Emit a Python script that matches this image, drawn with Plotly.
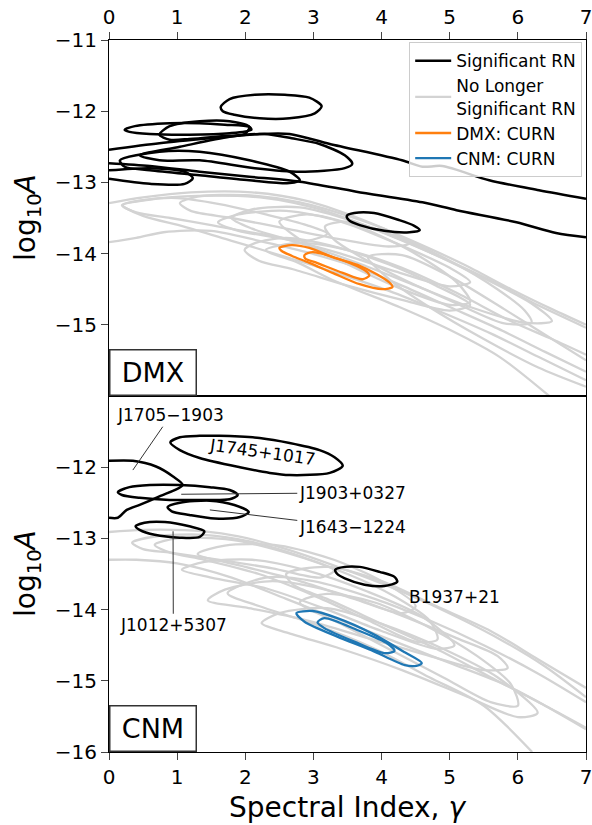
import plotly.graph_objects as go

# Contours in (spectral index gamma, log10 A); None marks a break where a contour leaves the axes.

# ---- DMX panel: pulsars with significant red noise ----
DMX_SIG_1 = [(1.64, -11.94), (1.77, -11.83), (2.14, -11.77), (2.58, -11.77), (2.94, -11.81), (3.12, -11.93),
             (3.02, -12.03), (2.65, -12.10), (2.21, -12.10), (1.84, -12.05), (1.67, -12.00), (1.64, -11.94)]
DMX_SIG_2 = [(0.23, -12.26), (0.38, -12.21), (0.89, -12.17), (1.33, -12.17), (1.70, -12.19), (2.06, -12.22),
             (2.09, -12.26), (1.77, -12.31), (1.18, -12.33), (0.60, -12.32), (0.30, -12.29), (0.23, -12.26)]
DMX_SIG_3 = [(0.74, -12.33), (0.89, -12.21), (1.33, -12.14), (1.77, -12.14), (2.06, -12.22), (1.99, -12.32),
             (1.65, -12.35), (1.18, -12.39), (0.89, -12.40), (0.74, -12.33)]
DMX_SIG_4 = [(0.0, -12.54), (0.74, -12.45), (1.48, -12.38), (2.21, -12.32), (2.65, -12.32), (3.24, -12.46),
             (4.30, -12.69), (4.60, -12.78), (4.89, -12.77), (5.58, -12.97), (6.31, -13.11), (7.0, -13.23), None,
             (7.0, -13.77), (6.56, -13.71), (5.98, -13.56), (5.10, -13.39), (4.60, -13.28), (3.63, -13.13),
             (2.80, -12.99), (2.06, -12.92), (1.33, -12.85), (0.60, -12.77), (0.0, -12.73)]
DMX_SIG_5 = [(0.0, -12.83), (0.60, -12.80), (1.11, -12.85), (1.23, -12.94), (1.11, -13.02), (0.60, -13.02),
             (0.0, -12.95)]
DMX_SIG_6 = [(0.45, -12.62), (1.04, -12.50), (1.77, -12.36), (2.28, -12.32), (2.68, -12.38), (3.09, -12.46),
             (3.46, -12.62), (3.57, -12.74), (3.46, -12.80), (2.80, -12.85), (2.14, -12.80), (1.33, -12.69),
             (0.74, -12.69), (0.45, -12.62)]
DMX_SIG_7 = [(0.16, -12.69), (0.74, -12.57), (1.33, -12.57), (2.06, -12.69), (2.65, -12.85), (2.80, -12.97),
             (2.65, -13.01), (2.06, -12.97), (1.33, -12.90), (0.60, -12.83), (0.23, -12.78), (0.16, -12.69)]
DMX_SIG_8 = [(3.49, -13.47), (3.60, -13.43), (3.89, -13.43), (4.26, -13.53), (4.48, -13.61), (4.56, -13.67),
             (4.41, -13.70), (4.04, -13.68), (3.68, -13.60), (3.52, -13.53), (3.49, -13.47)]

# ---- DMX panel: no longer significant ----
DMX_NS_1 = [(0.0, -13.29), (0.5, -13.21), (1.2, -13.14), (2.1, -13.14), (2.9, -13.26), (3.6, -13.48), (4.4, -13.80),
            (5.2, -14.15), (5.9, -14.50), (6.5, -14.78), (7.0, -15.00), None,
            (7.0, -15.66), (6.4, -15.38), (5.7, -15.05), (5.0, -14.75), (4.3, -14.45), (3.6, -14.18),
            (2.9, -13.98), (2.2, -13.82), (1.5, -13.68), (0.8, -13.70), (0.4, -13.78), (0.0, -13.84)]
DMX_NS_2 = [(7.0, -15.04), (6.2, -14.68), (5.5, -14.33), (4.7, -13.98), (3.9, -13.66), (3.1, -13.38), (2.3, -13.22),
            (1.3, -13.19), (0.6, -13.24), (0.2, -13.32), (0.5, -13.47), (1.1, -13.62), (1.8, -13.82),
            (2.5, -14.02), (3.3, -14.26), (4.1, -14.52), (4.9, -14.83), (5.6, -15.12), (6.3, -15.45), (7.0, -15.78)]
DMX_NS_3 = [(7.0, -15.42), (6.5, -15.20), (5.9, -14.95), (5.1, -14.55), (4.3, -14.20), (3.5, -13.95), (2.8, -13.85),
            (2.3, -13.95), (2.78, -14.13), (3.28, -14.37), (4.26, -14.75), (5.0, -15.07), (5.73, -15.45),
            (6.46, -16.0)]
DMX_NS_4 = [(0.19, -13.32), (0.5, -13.25), (1.0, -13.22), (1.6, -13.30), (2.3, -13.45), (2.9, -13.60), (3.2, -13.72),
            (2.9, -13.82), (2.2, -13.72), (1.5, -13.60), (0.9, -13.50), (0.4, -13.42), (0.19, -13.32)]
DMX_NS_5 = [(1.04, -13.29), (1.3, -13.20), (2.0, -13.18), (2.8, -13.28), (3.6, -13.50), (4.2, -13.72), (4.4, -13.86),
            (4.1, -13.90), (3.4, -13.80), (2.6, -13.65), (1.8, -13.50), (1.2, -13.40), (1.04, -13.29)]
DMX_NS_6 = [(1.6, -13.56), (1.9, -13.45), (2.6, -13.40), (3.4, -13.55), (4.2, -13.85), (5.0, -14.20), (5.3, -14.40),
            (5.0, -14.46), (4.2, -14.25), (3.4, -14.00), (2.6, -13.80), (1.9, -13.68), (1.6, -13.56)]
DMX_NS_7 = [(1.8, -13.50), (2.1, -13.38), (2.8, -13.35), (3.6, -13.55), (4.4, -13.85), (5.4, -14.30), (6.2, -14.70),
            (6.5, -14.95), (6.1, -14.97), (5.3, -14.75), (4.5, -14.45), (3.7, -14.15), (2.8, -13.85),
            (2.1, -13.65), (1.8, -13.50)]
DMX_NS_8 = [(1.99, -13.95), (2.15, -13.85), (2.6, -13.78), (3.3, -13.90), (4.1, -14.15), (4.8, -14.45),
            (5.3, -14.72), (5.0, -14.80), (4.3, -14.65), (3.5, -14.45), (2.7, -14.22), (2.2, -14.10), (1.99, -13.95)]
DMX_NS_9 = [(3.17, -13.62), (3.5, -13.55), (4.2, -13.75), (5.0, -14.10), (5.7, -14.50), (6.1, -14.80), (6.2, -14.97),
            (5.8, -14.98), (5.1, -14.70), (4.4, -14.40), (3.7, -14.05), (3.3, -13.80), (3.17, -13.62)]
DMX_NS_10 = [(2.5, -13.55), (2.9, -13.45), (3.6, -13.60), (4.4, -13.95), (5.1, -14.40), (5.3, -14.68), (5.0, -14.72),
             (4.3, -14.50), (3.5, -14.15), (2.8, -13.80), (2.5, -13.55)]
DMX_NS_11 = [(7.0, -15.50), (6.5, -15.20), (5.8, -14.78), (5.0, -14.32), (4.3, -14.02), (3.8, -14.05), (4.1, -14.35),
             (4.7, -14.75), (5.5, -15.20), (6.3, -15.60), (7.0, -15.87)]

# ---- DMX panel: common uncorrelated red noise ----
DMX_CURN_OUTER = [(2.50, -13.92), (2.68, -13.88), (2.94, -13.92), (3.28, -14.05), (3.68, -14.17), (3.93, -14.29),
                  (4.12, -14.41), (4.16, -14.47), (4.01, -14.50), (3.68, -14.43), (3.28, -14.27), (2.94, -14.13),
                  (2.68, -14.03), (2.53, -13.96), (2.50, -13.92)]
DMX_CURN_INNER = [(2.87, -14.02), (2.99, -13.98), (3.53, -14.13), (3.79, -14.26), (3.82, -14.31), (3.72, -14.36),
                  (3.43, -14.27), (3.05, -14.13), (2.88, -14.07), (2.87, -14.02)]

# ---- CNM panel: pulsars with significant red noise ----
J1745_1017 = [(0.90, -11.65), (1.04, -11.58), (1.33, -11.56), (1.62, -11.56), (1.92, -11.57), (2.21, -11.59),
              (2.65, -11.66), (3.09, -11.76), (3.31, -11.86), (3.43, -11.98), (3.24, -12.08), (2.65, -12.11),
              (2.36, -12.08), (1.92, -12.00), (1.33, -11.87), (1.04, -11.76), (0.90, -11.65)]
J1705_1903 = [(0.0, -11.91), (0.35, -11.91), (0.69, -11.99), (0.94, -12.13), (1.08, -12.25), (0.74, -12.41),
              (0.45, -12.53), (0.26, -12.60), (0.13, -12.71), (0.0, -12.71)]
J1903_0327 = [(0.13, -12.35), (0.30, -12.28), (0.60, -12.25), (1.04, -12.25), (1.48, -12.28), (1.77, -12.32),
              (1.89, -12.39), (1.77, -12.45), (1.33, -12.46), (0.89, -12.46), (0.45, -12.43), (0.19, -12.39),
              (0.13, -12.35)]
J1643_1224 = [(0.86, -12.56), (1.04, -12.50), (1.48, -12.47), (1.84, -12.53), (2.05, -12.63), (1.92, -12.70),
              (1.55, -12.72), (1.18, -12.67), (0.92, -12.62), (0.86, -12.56)]
J1012_5307 = [(0.39, -12.83), (0.52, -12.78), (0.82, -12.77), (1.18, -12.83), (1.40, -12.90), (1.33, -12.98),
              (1.04, -12.99), (0.67, -12.95), (0.45, -12.88), (0.39, -12.83)]
B1937_21 = [(3.32, -13.44), (3.46, -13.40), (3.68, -13.40), (3.97, -13.47), (4.19, -13.54), (4.23, -13.61),
            (4.04, -13.67), (3.75, -13.65), (3.46, -13.56), (3.35, -13.50), (3.32, -13.44)]

# ---- CNM panel: no longer significant ----
CNM_NS_1 = [(0.0, -12.91), (0.5, -12.88), (1.4, -12.90), (1.9, -12.97), (2.6, -13.15), (3.5, -13.45), (4.3, -13.75),
            (5.1, -14.10), (5.8, -14.45), (6.4, -14.80), (7.0, -15.23), None,
            (7.0, -15.66), (6.5, -15.40), (5.8, -15.05), (5.0, -14.75), (4.2, -14.45), (3.4, -14.15),
            (2.6, -13.85), (1.8, -13.55), (1.0, -13.35), (0.4, -13.30), (0.0, -13.30)]
CNM_NS_2 = [(0.34, -13.06), (0.7, -12.97), (1.4, -12.95), (2.1, -13.05), (2.8, -13.25), (3.3, -13.45), (3.1, -13.55),
            (2.4, -13.42), (1.6, -13.30), (0.9, -13.20), (0.5, -13.15), (0.34, -13.06)]
CNM_NS_3 = [(0.67, -13.09), (1.0, -13.00), (1.8, -13.02), (2.6, -13.20), (3.5, -13.50), (4.2, -13.82), (4.7, -14.15),
            (4.82, -14.42), (4.5, -14.45), (3.8, -14.15), (3.0, -13.80), (2.2, -13.50), (1.4, -13.30),
            (0.9, -13.20), (0.67, -13.09)]
CNM_NS_4 = [(1.07, -13.44), (1.4, -13.33), (2.1, -13.30), (2.9, -13.45), (3.8, -13.75), (4.6, -14.10), (5.07, -14.50),
            (4.8, -14.55), (4.0, -14.30), (3.2, -14.00), (2.3, -13.70), (1.5, -13.55), (1.07, -13.44)]
CNM_NS_5 = [(1.45, -13.87), (1.7, -13.72), (2.4, -13.60), (3.3, -13.75), (4.2, -14.05), (5.1, -14.40), (5.7, -14.65),
            (5.85, -14.82), (5.5, -14.85), (4.7, -14.65), (3.8, -14.40), (2.9, -14.15), (2.0, -13.97),
            (1.45, -13.87)]
CNM_NS_6 = [(2.24, -14.19), (2.5, -14.05), (3.2, -13.98), (4.0, -14.20), (4.9, -14.55), (5.7, -14.95), (6.29, -15.45),
            (6.0, -15.51), (5.2, -15.20), (4.3, -14.85), (3.4, -14.55), (2.6, -14.32), (2.24, -14.19)]
CNM_NS_7 = [(7.0, -15.30), (6.3, -14.90), (5.5, -14.50), (4.7, -14.15), (3.9, -13.85), (3.0, -13.60), (2.3, -13.55),
            (1.74, -13.77), (2.2, -13.95), (3.0, -14.20), (3.9, -14.55), (4.7, -14.95), (5.5, -15.35),
            (6.21, -16.0)]
CNM_NS_8 = [(7.0, -15.10), (6.3, -14.70), (5.6, -14.30), (4.8, -13.95), (4.0, -13.60), (3.2, -13.40), (2.6, -13.50),
            (2.7, -13.65), (3.2, -13.85), (4.0, -14.20), (4.8, -14.55), (5.6, -14.95), (6.4, -15.35), (7.0, -15.68)]
CNM_NS_9 = [(2.8, -13.90), (3.2, -13.78), (3.9, -13.90), (4.7, -14.25), (5.4, -14.65), (5.9, -15.05), (6.0, -15.35),
            (5.6, -15.30), (4.9, -14.95), (4.1, -14.55), (3.4, -14.20), (2.8, -13.90)]
CNM_NS_10 = [(1.3, -13.22), (1.7, -13.10), (2.5, -13.10), (3.3, -13.30), (4.0, -13.60), (4.5, -13.95), (4.3, -14.05),
             (3.6, -13.85), (2.8, -13.60), (2.0, -13.40), (1.3, -13.22)]

# ---- CNM panel: common uncorrelated red noise ----
CNM_CURN_OUTER = [(2.75, -14.05), (2.99, -14.02), (3.35, -14.12), (3.85, -14.33), (4.34, -14.60), (4.59, -14.75),
                  (4.51, -14.79), (4.34, -14.78), (3.85, -14.57), (3.35, -14.38), (2.87, -14.17), (2.75, -14.05)]
CNM_CURN_INNER = [(3.06, -14.18), (3.16, -14.12), (3.65, -14.29), (4.09, -14.48), (4.19, -14.58), (4.04, -14.61),
                  (3.60, -14.45), (3.16, -14.26), (3.06, -14.18)]

# Pulsar labels: name, contour point, label position
LABEL_NAMES = ["J1705\u22121903", "J1903+0327", "J1643\u22121224", "J1012+5307"]
LABEL_POINT_GAMMA = [0.35, 1.06, 1.48, 0.94]
LABEL_POINT_LOGA = [-12.04, -12.38, -12.60, -12.90]
LABEL_TEXT_GAMMA = [0.905, 3.57, 3.57, 0.944]
LABEL_TEXT_LOGA = [-11.27, -12.36, -12.84, -14.22]

X_TICKS = [0, 1, 2, 3, 4, 5, 6, 7]
DMX_Y_TICKS = [-15, -14, -13, -12, -11]
CNM_Y_TICKS = [-16, -15, -14, -13, -12]

BLACK = "#000000"
GRAY = "#d3d3d3"
ORANGE = "#ff7f0e"
BLUE = "#1f77b4"
FONT = "DejaVu Sans"


def join_paths(contours):
    xs, ys = [], []
    for c in contours:
        for p in c:
            if p is None:
                xs.append(None)
                ys.append(None)
            else:
                xs.append(p[0])
                ys.append(p[1])
        xs.append(None)
        ys.append(None)
    return xs, ys


def contour_trace(contours, color, width, xa, ya, name, show, rank):
    xs, ys = join_paths(contours)
    return go.Scatter(x=xs, y=ys, mode="lines", xaxis=xa, yaxis=ya,
                      line=dict(color=color, width=width, shape="spline", smoothing=0.8),
                      connectgaps=False, name=name, showlegend=show, legendrank=rank,
                      hoverinfo="skip")


fig = go.Figure()

dmx_ns = [DMX_NS_1, DMX_NS_2, DMX_NS_3, DMX_NS_4, DMX_NS_5, DMX_NS_6, DMX_NS_7, DMX_NS_8, DMX_NS_9,
          DMX_NS_10, DMX_NS_11]
dmx_sig = [DMX_SIG_1, DMX_SIG_2, DMX_SIG_3, DMX_SIG_4, DMX_SIG_5, DMX_SIG_6, DMX_SIG_7, DMX_SIG_8]
cnm_ns = [CNM_NS_1, CNM_NS_2, CNM_NS_3, CNM_NS_4, CNM_NS_5, CNM_NS_6, CNM_NS_7, CNM_NS_8, CNM_NS_9, CNM_NS_10]
cnm_sig = [J1745_1017, J1705_1903, J1903_0327, J1643_1224, J1012_5307, B1937_21]

fig.add_trace(contour_trace(dmx_ns, GRAY, 2.3, "x", "y", "No Longer<br>Significant RN", True, 2))
fig.add_trace(contour_trace(dmx_sig, BLACK, 2.5, "x", "y", "Significant RN", True, 1))
fig.add_trace(contour_trace([DMX_CURN_OUTER, DMX_CURN_INNER], ORANGE, 2.3, "x", "y", "DMX: CURN", True, 3))
fig.add_trace(contour_trace(cnm_ns, GRAY, 2.3, "x2", "y2", "No Longer<br>Significant RN", False, 2))
fig.add_trace(contour_trace(cnm_sig, BLACK, 2.5, "x2", "y2", "Significant RN", False, 1))
fig.add_trace(contour_trace([CNM_CURN_OUTER, CNM_CURN_INNER], BLUE, 2.3, "x2", "y2", "CNM: CURN", True, 4))

axis_common = dict(range=[0, 7], tickvals=X_TICKS, ticks="outside", ticklen=7, tickwidth=1.2,
                   showline=True, linecolor="black", linewidth=1.2, mirror=True, showgrid=False,
                   zeroline=False, tickfont=dict(size=20, color="black"), ticklabeloverflow="allow",
                   automargin=False)
yaxis_common = dict(range=[-16, -11], ticks="outside", ticklen=7, tickwidth=1.2, showline=True,
                    linecolor="black", linewidth=1.2, mirror=True, showgrid=False, zeroline=False,
                    tickfont=dict(size=20, color="black"), automargin=False)

fig.update_layout(
    width=592, height=825,
    margin=dict(l=109, r=6, t=40, b=73),
    paper_bgcolor="white", plot_bgcolor="white",
    font=dict(family=FONT, color="black"),
    xaxis=dict(domain=[0, 1], anchor="y", side="top", **axis_common),
    yaxis=dict(domain=[0.5, 1], anchor="x", tickvals=DMX_Y_TICKS, **yaxis_common),
    xaxis2=dict(domain=[0, 1], anchor="y2", side="bottom", matches="x", **axis_common),
    yaxis2=dict(domain=[0, 0.5], anchor="x2", tickvals=CNM_Y_TICKS, **yaxis_common),
    legend=dict(x=0.992, y=0.997, xanchor="right", yanchor="top", bgcolor="rgba(255,255,255,0.8)",
                bordercolor="#cccccc", borderwidth=1, font=dict(size=17), tracegroupgap=0,
                itemwidth=36),
    showlegend=True,
)

annotations = []
# panel tags
for tag, xr, yr in [("DMX", "x domain", "y domain"), ("CNM", "x2 domain", "y2 domain")]:
    annotations.append(dict(text=tag, xref=xr, yref=yr, x=0, y=0, xanchor="left", yanchor="bottom",
                            showarrow=False, font=dict(size=27), bgcolor="white", bordercolor="#333333",
                            borderwidth=1.5, borderpad=0, width=85, height=44))
# pulsar names with leader lines
for name, px, py, tx, ty in zip(LABEL_NAMES, LABEL_POINT_GAMMA, LABEL_POINT_LOGA, LABEL_TEXT_GAMMA,
                                 LABEL_TEXT_LOGA):
    annotations.append(dict(text=name, x=px, y=py, ax=tx, ay=ty, xref="x2", yref="y2", axref="x2",
                            ayref="y2", showarrow=True, arrowhead=0, arrowwidth=1, arrowcolor="#333333",
                            standoff=0, font=dict(size=17)))
annotations.append(dict(text="J1745+1017", x=2.25, y=-11.78, xref="x2", yref="y2", showarrow=False,
                        textangle=8, font=dict(size=17)))
annotations.append(dict(text="B1937+21", x=5.07, y=-13.82, xref="x2", yref="y2", showarrow=False,
                        font=dict(size=17)))
# axis titles
annotations.append(dict(text="Spectral Index, <i>\u03b3</i>", xref="paper", yref="paper", x=0.5, y=0,
                        yshift=-55, xanchor="center", yanchor="middle", showarrow=False,
                        font=dict(size=28)))
for yr in ["y domain", "y2 domain"]:
    annotations.append(dict(text="log<sub>10</sub><i>A</i>", xref="paper", yref=yr, x=0, y=0.5,
                            xshift=-82, xanchor="center", yanchor="middle", textangle=-90,
                            showarrow=False, font=dict(size=28)))
fig.update_layout(annotations=annotations)

fig.write_html("out.html")
